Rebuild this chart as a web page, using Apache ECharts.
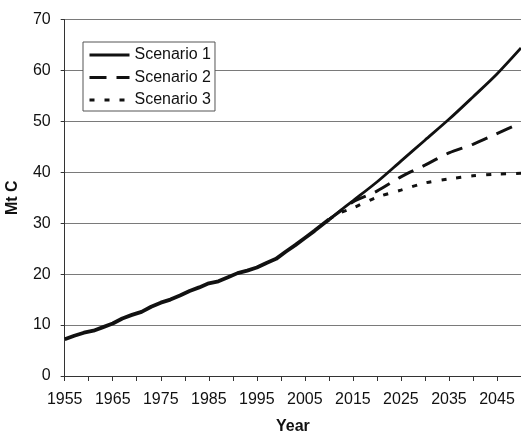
<!DOCTYPE html>
<html><head><meta charset="utf-8">
<script src="https://cdn.jsdelivr.net/npm/echarts@6/dist/echarts.min.js"></script>
<style>html,body{margin:0;padding:0;background:#fff}#c{width:521px;height:433px}</style>
</head><body><div id="c"></div>
<script>
const histYears = [1955,1957,1959,1961,1963,1965,1967,1969,1971,1973,1975,1977,1979,1981,1983,1985,1987,1989,1991,1993,1995,1997,1999,2001,2003,2005,2007,2009,2010];
const histValues = [7.2,7.9,8.5,8.9,9.6,10.3,11.3,12.0,12.6,13.6,14.4,15.0,15.8,16.7,17.4,18.2,18.6,19.4,20.2,20.7,21.3,22.2,23.0,24.4,25.7,27.1,28.5,30.0,30.7];
const scenYears = [2010,2012,2015,2020,2025,2030,2035,2040,2045,2050];
const scenario1 = [30.7,32.2,34.4,38.1,42.2,46.3,50.4,54.8,59.3,64.4];
const scenario2 = [30.7,32.1,34.2,36.3,39.1,41.4,43.8,45.5,47.6,49.7];
const scenario3 = [30.7,31.9,33.0,35.1,36.5,37.9,38.7,39.3,39.65,39.8];
const seriesNames = ['Scenario 1','Scenario 2','Scenario 3'];
const xTickLabels = ['1955','1965','1975','1985','1995','2005','2015','2025','2035','2045'];

const pairs = (xs, ys) => xs.map((x, i) => [x, ys[i]]);
const font = 'Liberation Sans, Arial, sans-serif';
const ink = '#111';

const chart = echarts.init(document.getElementById('c'), null, {renderer: 'canvas'});
chart.setOption({
  animation: false,
  backgroundColor: '#fff',
  textStyle: {fontFamily: font, color: ink},
  grid: {left: 64.7, right: 0, top: 19.5, bottom: 57, containLabel: false, outerBoundsMode: 'none'},
  legend: {
    data: seriesNames,
    orient: 'vertical',
    left: 83, top: 42,
    padding: [5, 4, 3, 5],
    itemGap: 6.5,
    itemWidth: 40, itemHeight: 14,
    itemTextGap: 5,
    itemStyle: {opacity: 0},
    lineStyle: {width: 3},
    borderColor: '#555', borderWidth: 1,
    backgroundColor: '#fff',
    textStyle: {fontSize: 16, color: ink, fontFamily: font}
  },
  xAxis: {
    type: 'value', min: 1955, max: 2050, interval: 5,
    name: 'Year', nameLocation: 'middle', nameGap: 43,
    nameTextStyle: {fontSize: 16, fontWeight: 'bold', color: ink, fontFamily: font},
    axisLine: {lineStyle: {color: '#333', width: 1}},
    axisTick: {show: true, length: 5, lineStyle: {color: '#333'}},
    splitLine: {show: false},
    axisLabel: {
      margin: 16, fontSize: 16, color: ink, fontFamily: font,
      showMaxLabel: false,
      formatter: v => xTickLabels.indexOf(String(v)) >= 0 ? String(v) : ''
    }
  },
  yAxis: {
    type: 'value', min: 0, max: 70, interval: 10,
    name: 'Mt C', nameLocation: 'middle', nameGap: 44, nameRotate: 90,
    nameTextStyle: {fontSize: 16, fontWeight: 'bold', color: ink, fontFamily: font},
    axisLine: {show: true, lineStyle: {color: '#333', width: 1}},
    axisTick: {show: true, length: 4, lineStyle: {color: '#333'}},
    splitLine: {show: true, lineStyle: {color: '#7a7a7a', width: 1}},
    axisLabel: {margin: 14, fontSize: 16, color: ink, fontFamily: font}
  },
  series: [
    {name: 'History', type: 'line', data: pairs(histYears, histValues), symbol: 'none',
     lineStyle: {color: ink, width: 3.8}, itemStyle: {color: ink}, z: 3},
    {name: seriesNames[0], type: 'line', data: pairs(scenYears, scenario1), symbol: 'none', smooth: 0.3,
     lineStyle: {color: ink, width: 2.8, type: 'solid'}, itemStyle: {color: ink}},
    {name: seriesNames[1], type: 'line', data: pairs(scenYears, scenario2), symbol: 'none', smooth: 0.3,
     lineStyle: {color: ink, width: 3, type: [17, 10]}, itemStyle: {color: ink}},
    {name: seriesNames[2], type: 'line', data: pairs(scenYears, scenario3), symbol: 'none', smooth: 0.3,
     lineStyle: {color: ink, width: 3, type: [5, 10]}, itemStyle: {color: ink}}
  ]
});
</script></body></html>
